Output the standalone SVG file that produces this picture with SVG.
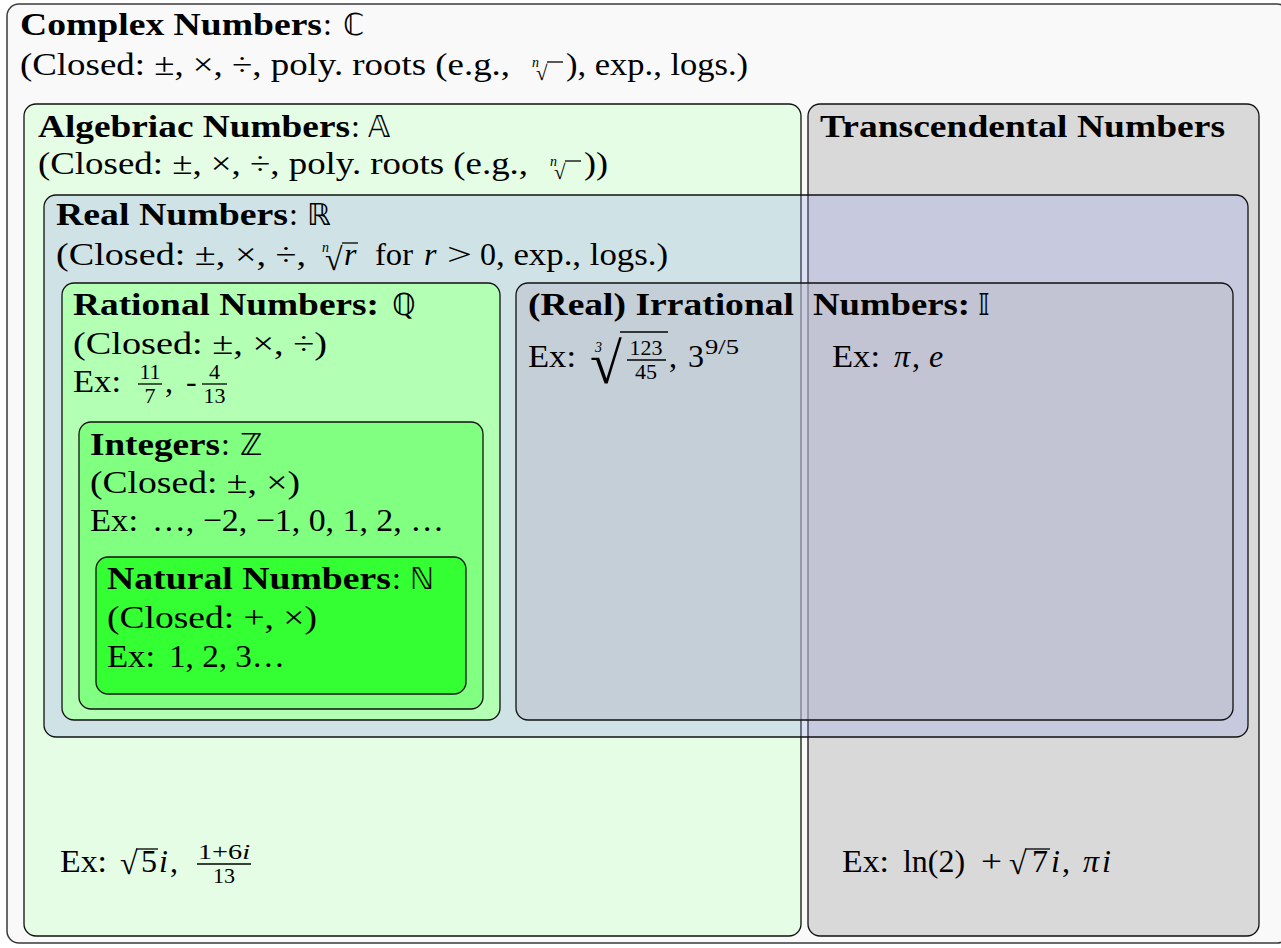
<svg xmlns="http://www.w3.org/2000/svg" width="1281" height="948" viewBox="0 0 1281 948">
<style>
.t{font-family:"Liberation Serif","Times New Roman",serif;font-size:32px;fill:#000}
.b{font-weight:bold}
.i{font-style:italic}
.s{font-size:22px}
.x{font-size:14px;font-style:italic}
.ds{font-family:"DejaVu Sans","DejaVu Serif",sans-serif;font-size:30px;fill:#000}
.rad{font-family:"Liberation Serif","DejaVu Serif",serif;fill:#000}
.bar{stroke:#000;stroke-width:1.3}
.box{stroke:#111;stroke-width:1.3}
</style>
<g id="complex">
<rect x="7" y="4" width="1282" height="939" rx="12" fill="#f9f9f9" stroke="#3a3a3a" stroke-width="1.5"/>
<text class="t b" x="20" y="35" textLength="302" lengthAdjust="spacingAndGlyphs">Complex Numbers</text>
<text class="t" x="323" y="35">:</text>
<text class="ds" x="343" y="35">ℂ</text>
<text class="t" x="20" y="75" textLength="490" lengthAdjust="spacingAndGlyphs">(Closed: ±, ×, ÷, poly.  roots (e.g.,</text>
<text class="t x" x="532" y="67">n</text>
<text class="rad" x="536" y="80" font-size="21">√</text>
<line class="bar" x1="547" y1="62" x2="563" y2="62"/>
<text class="t" x="566" y="75" textLength="182" lengthAdjust="spacingAndGlyphs">), exp., logs.)</text>
</g>
<g id="algebraic">
<rect class="box" x="24" y="104" width="777" height="832" rx="12" fill="#e4fde4"/>
<text class="t b" x="38" y="137" textLength="312" lengthAdjust="spacingAndGlyphs">Algebriac Numbers</text>
<text class="t" x="351" y="137">:</text>
<text class="ds" x="368" y="137">𝔸</text>
<text class="t" x="38" y="174" textLength="490" lengthAdjust="spacingAndGlyphs">(Closed: ±, ×, ÷, poly.  roots (e.g.,</text>
<text class="t x" x="550" y="166">n</text>
<text class="rad" x="554" y="179" font-size="21">√</text>
<line class="bar" x1="565" y1="161" x2="581" y2="161"/>
<text class="t" x="584" y="174" textLength="24" lengthAdjust="spacingAndGlyphs">))</text>
<text class="t" x="60" y="872" textLength="47" lengthAdjust="spacingAndGlyphs">Ex:</text>
<text class="rad" x="120" y="874" font-size="32">√</text>
<line class="bar" x1="136" y1="849" x2="158" y2="849"/>
<text class="t" x="141" y="872">5</text>
<text class="t i" x="159" y="872">i</text>
<text class="t" x="170" y="872">,</text>
<text class="t s" x="224" y="859" text-anchor="middle" textLength="52" lengthAdjust="spacingAndGlyphs">1+6<tspan class="i">i</tspan></text>
<line class="bar" x1="197" y1="864" x2="251" y2="864"/>
<text class="t s" x="224" y="883" text-anchor="middle">13</text>
</g>
<g id="transcendental">
<rect class="box" x="808" y="104" width="451" height="832" rx="12" fill="#d9d9d9"/>
<text class="t b" x="820" y="137" textLength="405" lengthAdjust="spacingAndGlyphs">Transcendental Numbers</text>
<text class="t" x="842" y="872" textLength="47" lengthAdjust="spacingAndGlyphs">Ex:</text>
<text class="t" x="903" y="872" textLength="62" lengthAdjust="spacingAndGlyphs">ln(2)</text>
<text class="t" x="981" y="872" textLength="21" lengthAdjust="spacingAndGlyphs">+</text>
<text class="rad" x="1009" y="874" font-size="32">√</text>
<line class="bar" x1="1025" y1="849" x2="1050" y2="849"/>
<text class="t" x="1032" y="872">7</text>
<text class="t i" x="1051" y="872">i</text>
<text class="t" x="1062" y="872">,</text>
<text class="t i" x="1083" y="872">π</text>
<text class="t i" x="1102" y="872">i</text>
</g>
<g id="real">
<rect class="box" x="44" y="195" width="1204" height="542" rx="12" fill="rgb(148,155,240)" fill-opacity="0.26"/>
<text class="t b" x="56" y="225" textLength="232" lengthAdjust="spacingAndGlyphs">Real Numbers</text>
<text class="t" x="289" y="225">:</text>
<text class="ds" x="307" y="225">ℝ</text>
<text class="t" x="56" y="265" textLength="250" lengthAdjust="spacingAndGlyphs">(Closed: ±, ×, ÷,</text>
<text class="t x" x="322" y="252">n</text>
<text class="rad" x="325" y="270" font-size="32">√</text>
<line class="bar" x1="342" y1="243" x2="358" y2="243"/>
<text class="t i" x="344" y="265">r</text>
<text class="t" x="375" y="265" textLength="38" lengthAdjust="spacingAndGlyphs">for</text>
<text class="t i" x="424" y="265">r</text>
<text class="t" x="447" y="265" textLength="25" lengthAdjust="spacingAndGlyphs">&gt;</text>
<text class="t" x="480" y="265">0</text>
<text class="t" x="496" y="265" textLength="172" lengthAdjust="spacingAndGlyphs">, exp., logs.)</text>
</g>
<g id="rational">
<rect class="box" x="62" y="283" width="438" height="437" rx="12" fill="#b3ffb3"/>
<text class="t b" x="73" y="315" textLength="306" lengthAdjust="spacingAndGlyphs">Rational Numbers:</text>
<text class="ds" x="392" y="315">ℚ</text>
<text class="t" x="73" y="354" textLength="254" lengthAdjust="spacingAndGlyphs">(Closed: ±, ×, ÷)</text>
<text class="t" x="73" y="392" textLength="48" lengthAdjust="spacingAndGlyphs">Ex:</text>
<text class="t s" x="150" y="379" text-anchor="middle">11</text>
<line class="bar" x1="138" y1="384" x2="162" y2="384"/>
<text class="t s" x="150" y="403" text-anchor="middle">7</text>
<text class="t" x="165" y="392">,</text>
<text class="t" x="186" y="392">-</text>
<text class="t s" x="214.5" y="379" text-anchor="middle">4</text>
<line class="bar" x1="202" y1="384" x2="227" y2="384"/>
<text class="t s" x="214.5" y="403" text-anchor="middle">13</text>
</g>
<g id="integers">
<rect class="box" x="79" y="422" width="404" height="287" rx="12" fill="#80ff80"/>
<text class="t b" x="90" y="455" textLength="130" lengthAdjust="spacingAndGlyphs">Integers</text>
<text class="t" x="221" y="455">:</text>
<text class="ds" x="240" y="455">ℤ</text>
<text class="t" x="90" y="493" textLength="210" lengthAdjust="spacingAndGlyphs">(Closed: ±, ×)</text>
<text class="t" x="90" y="531" textLength="48" lengthAdjust="spacingAndGlyphs">Ex:</text>
<text class="t" x="152" y="531" textLength="292" lengthAdjust="spacingAndGlyphs">…, −2, −1, 0, 1, 2, …</text>
</g>
<g id="natural">
<rect class="box" x="96" y="557" width="370" height="137" rx="12" fill="#33ff33"/>
<text class="t b" x="107" y="589" textLength="284" lengthAdjust="spacingAndGlyphs">Natural Numbers</text>
<text class="t" x="392" y="589">:</text>
<text class="ds" x="410" y="589">ℕ</text>
<text class="t" x="107" y="628" textLength="210" lengthAdjust="spacingAndGlyphs">(Closed: +, ×)</text>
<text class="t" x="107" y="667" textLength="48" lengthAdjust="spacingAndGlyphs">Ex:</text>
<text class="t" x="169" y="667" textLength="116" lengthAdjust="spacingAndGlyphs">1, 2, 3…</text>
</g>
<g id="irrational">
<rect class="box" x="516" y="283" width="717" height="437" rx="12" fill="rgb(188,189,200)" fill-opacity="0.53"/>
<text class="t b" x="528" y="315" textLength="266" lengthAdjust="spacingAndGlyphs">(Real) Irrational</text>
<text class="t b" x="813" y="315" textLength="157" lengthAdjust="spacingAndGlyphs">Numbers:</text>
<text class="ds" x="978" y="315">𝕀</text>
<text class="t" x="528" y="367" textLength="48" lengthAdjust="spacingAndGlyphs">Ex:</text>
<text class="t x" x="595" y="352">3</text>
<text class="rad" x="590" y="383" font-size="58">√</text>
<line class="bar" x1="620" y1="332" x2="668" y2="332"/>
<text class="t s" x="646" y="355" text-anchor="middle">123</text>
<line class="bar" x1="627" y1="360" x2="666" y2="360"/>
<text class="t s" x="646" y="379" text-anchor="middle">45</text>
<text class="t" x="669" y="367">,</text>
<text class="t" x="688" y="367">3</text>
<text class="t s" x="705" y="354" textLength="34" lengthAdjust="spacingAndGlyphs">9/5</text>
<text class="t" x="832" y="367" textLength="48" lengthAdjust="spacingAndGlyphs">Ex:</text>
<text class="t i" x="894" y="367">π</text>
<text class="t" x="912" y="367">,</text>
<text class="t i" x="929" y="367">e</text>
</g>
</svg>
